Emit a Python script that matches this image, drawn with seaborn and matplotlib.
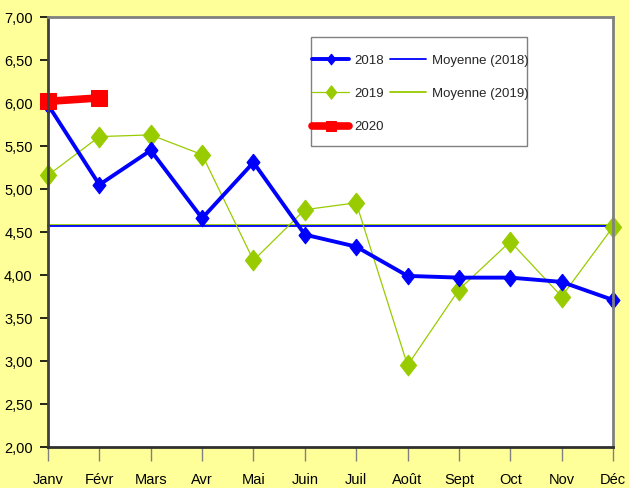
import numpy as np
import pandas as pd
import matplotlib
matplotlib.use("Agg")
import matplotlib.pyplot as plt
import seaborn as sns
from matplotlib.ticker import FuncFormatter
from matplotlib.patches import Rectangle

# data
mois = ['Janv', 'Févr', 'Mars', 'Avr', 'Mai', 'Juin', 'Juil', 'Août', 'Sept', 'Oct', 'Nov', 'Déc']
v2018 = [5.98, 5.05, 5.45, 4.66, 5.31, 4.47, 4.33, 3.99, 3.97, 3.97, 3.92, 3.71]
v2019 = [5.16, 5.61, 5.63, 5.40, 4.17, 4.76, 4.84, 2.95, 3.83, 4.39, 3.75, 4.56]
v2020 = [6.02, 6.06]

moy2018 = np.mean(v2018)
moy2019 = np.mean(v2019)

sns.set_style("white")
plt.rcParams['font.family'] = ['Liberation Sans', 'DejaVu Sans']

blue = '#0000FF'
green = '#99CC00'
red = '#FF0000'

# diamond marker, taller than wide
diam = [(0, 1), (0.78, 0), (0, -1), (-0.78, 0), (0, 1)]

fig = plt.figure(figsize=(6.29, 4.88), dpi=100)
fig.patch.set_facecolor('#FFFF99')
ax = fig.add_axes([0.0763, 0.084, 0.8983, 0.881])
ax.set_facecolor('white')

x12 = np.arange(12)
df18 = pd.DataFrame({'x': x12, 'y': v2018})
df19 = pd.DataFrame({'x': x12, 'y': v2019})
df20 = pd.DataFrame({'x': np.arange(len(v2020)), 'y': v2020})

sns.lineplot(data=df19, x='x', y=[moy2019] * 12, ax=ax, color=green, lw=1.3,
             label='Moyenne (2019)', clip_on=False)
sns.lineplot(data=df18, x='x', y=[moy2018] * 12, ax=ax, color=blue, lw=1.3,
             label='Moyenne (2018)', clip_on=False)
sns.lineplot(data=df19, x='x', y='y', ax=ax, color=green, lw=0.9, marker=diam,
             markersize=15, markeredgecolor=green, label='2019', clip_on=False)
sns.lineplot(data=df18, x='x', y='y', ax=ax, color=blue, lw=2.8, marker=diam,
             markersize=12, markeredgecolor=blue, label='2018', clip_on=False)
sns.lineplot(data=df20, x='x', y='y', ax=ax, color=red, lw=5.5, marker='s',
             markersize=11, markeredgecolor=red, label='2020', clip_on=False)

ax.set_xlim(0, 11)
ax.set_ylim(2, 7)
ax.set_xticks(x12)
ax.set_xticklabels(mois)
ax.set_yticks(np.arange(2, 7.01, 0.5))
ax.yaxis.set_major_formatter(FuncFormatter(lambda v, p: f"{v:.2f}".replace('.', ',')))
ax.set_xlabel('')
ax.set_ylabel('')

ax.tick_params(axis='y', length=6, width=1.2, color='black', pad=5,
               labelsize=10.5, labelcolor='black', left=True)
ax.tick_params(axis='x', length=10, width=1, color='#808080', pad=9,
               labelsize=10.5, labelcolor='black', bottom=True)

for s in ['top', 'right']:
    ax.spines[s].set_color('#808080')
    ax.spines[s].set_linewidth(2)
ax.spines['left'].set_color('#404040')
ax.spines['left'].set_linewidth(2)
ax.spines['bottom'].set_color('#303030')
ax.spines['bottom'].set_linewidth(2)

# legend box drawn separately so the entries can sit close to its left edge
ax.add_patch(Rectangle((0.4655, 0.70), 0.3823, 0.2535, transform=ax.transAxes,
                       facecolor='white', edgecolor='#808080', lw=1, zorder=4))

h, l = ax.get_legend_handles_labels()
order = ['2018', '2019', '2020', 'Moyenne (2018)', 'Moyenne (2019)']
hd = dict(zip(l, h))
leg = ax.legend([hd[k] for k in order], order, ncol=2, loc='upper left',
                bbox_to_anchor=(0.468, 0.913), borderaxespad=0, fontsize=9.5,
                frameon=False, handlelength=2.8, handletextpad=0.4,
                columnspacing=0.4, labelspacing=1.6, borderpad=0,
                markerscale=0.65)
leg.set_zorder(5)

fig.savefig('out.png', dpi=100, facecolor=fig.get_facecolor())
